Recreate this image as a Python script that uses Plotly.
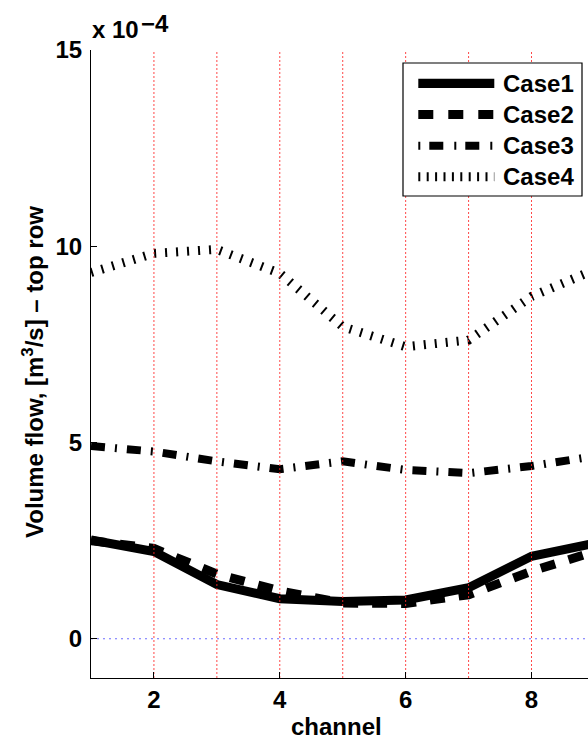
import plotly.graph_objects as go

# ---- data (volume flow in units of 1e-4 m^3/s) ----
channels = [1, 2, 3, 4, 5, 6, 7, 8, 9]
case1 = [2.52, 2.22, 1.38, 1.02, 0.95, 0.99, 1.30, 2.10, 2.43]
case2 = [2.50, 2.30, 1.65, 1.22, 0.91, 0.90, 1.12, 1.72, 2.22]
case3 = [4.91, 4.77, 4.52, 4.32, 4.52, 4.30, 4.22, 4.40, 4.65]
case4 = [9.33, 9.82, 9.92, 9.31, 7.95, 7.44, 7.61, 8.72, 9.40]
names = ["Case1", "Case2", "Case3", "Case4"]
grid_x = [2, 3, 4, 5, 6, 7, 8]
x_ticks = [2, 4, 6, 8]
y_ticks = [0, 5, 10, 15]
y_ticktext = ["0", "5", "10", "15"]

FONT = "Liberation Sans, Arial, sans-serif"
FS = 24

W, H = 588, 742
AX_L, AX_R, AX_T, AX_B = 91, 588, 50, 678   # plot area in page pixels
ML, MR, MT = AX_L, 0, AX_T
MB = H - AX_B
PW = AX_R - AX_L
PH = AX_B - AX_T
XMIN, YMIN, YMAX = 1, -1, 15
PX_PER_X = 62.93
XMAX = XMIN + PW / PX_PER_X

def px2paper_x(px):
    return (px - AX_L) / PW

def px2paper_y(py):
    return (AX_B - py) / PH

styles = [
    dict(width=9, dash="solid"),
    dict(width=9, dash="15px,14px"),
    dict(width=8, dash="14px,10px,2px,10px"),
    dict(width=9, dash="2px,9px"),
]
series = [case1, case2, case3, case4]

fig = go.Figure()
for nm, ys, st in zip(names, series, styles):
    fig.add_trace(go.Scatter(x=channels, y=ys, mode="lines", name=nm,
                             line=dict(color="black", width=st["width"], dash=st["dash"]),
                             showlegend=False, hoverinfo="skip"))

# red dotted vertical lines (drawn over data)
gx, gy = [], []
for g in grid_x:
    gx += [g, g, None]
    gy += [YMIN, YMAX, None]
fig.add_trace(go.Scatter(x=gx, y=gy, mode="lines", showlegend=False, hoverinfo="skip",
                         line=dict(color="rgba(255,40,40,0.85)", width=1, dash="2px,2px")))
# blue dotted zero line
fig.add_trace(go.Scatter(x=[XMIN, channels[-1] + 1], y=[0, 0], mode="lines", showlegend=False,
                         hoverinfo="skip",
                         line=dict(color="rgba(60,60,255,0.75)", width=1, dash="2px,4px")))

# ---- manual legend ----
shapes = []
annotations = []
lx0, lx1, ly0, ly1 = 403, 582, 63, 196
shapes.append(dict(type="rect", xref="paper", yref="paper", layer="above",
                   x0=px2paper_x(lx0), x1=px2paper_x(lx1), y0=px2paper_y(ly1), y1=px2paper_y(ly0),
                   line=dict(color="black", width=1.2), fillcolor="white"))
legend_rows = [83.3, 114.5, 145.7, 176.7]
legend_dash = ["solid", "15px,15px", "2px,9px,14px,11px", "2px,6.4px"]
legend_w = [9.3, 9, 8, 9]
for nm, ry, dsh, lw in zip(names, legend_rows, legend_dash, legend_w):
    shapes.append(dict(type="line", xref="paper", yref="paper", layer="above",
                       x0=px2paper_x(418.3), x1=px2paper_x(494.3),
                       y0=px2paper_y(ry), y1=px2paper_y(ry),
                       line=dict(color="black", width=lw, dash=dsh)))
    annotations.append(dict(xref="paper", yref="paper", x=px2paper_x(501), y=px2paper_y(ry),
                            xanchor="left", yanchor="middle", showarrow=False, text=nm,
                            font=dict(family=FONT, size=FS, color="black", weight="bold")))

# axis titles and exponent
annotations.append(dict(xref="paper", yref="paper", x=px2paper_x(336), y=px2paper_y(726),
                        xanchor="center", yanchor="middle", showarrow=False, text="channel",
                        font=dict(family=FONT, size=FS, color="black", weight="bold")))
annotations.append(dict(xref="paper", yref="paper", x=px2paper_x(33), y=px2paper_y(372),
                        xanchor="center", yanchor="middle", showarrow=False, textangle=-90,
                        text="Volume flow, [m<sup>3</sup>/s] \u2013 top row",
                        font=dict(family=FONT, size=FS, color="black", weight="bold")))
annotations.append(dict(xref="paper", yref="paper", x=px2paper_x(90), y=px2paper_y(29.7),
                        xanchor="left", yanchor="middle", showarrow=False,
                        text="x 10",
                        font=dict(family=FONT, size=FS, color="black", weight="bold")))
annotations.append(dict(xref="paper", yref="paper", x=px2paper_x(139), y=px2paper_y(23.5),
                        xanchor="left", yanchor="middle", showarrow=False,
                        text="\u22124",
                        font=dict(family=FONT, size=FS, color="black", weight="bold")))

fig.update_layout(
    width=W, height=H,
    margin=dict(l=ML, r=MR, t=MT, b=MB, pad=0),
    paper_bgcolor="white", plot_bgcolor="white",
    showlegend=False,
    shapes=shapes, annotations=annotations,
    font=dict(family=FONT, size=FS, color="black", weight="bold"),
    xaxis=dict(range=[XMIN, XMAX], tickvals=x_ticks, ticks="inside", ticklen=6,
               tickcolor="black", showline=True, linecolor="black", linewidth=1,
               showgrid=False, zeroline=False, mirror=False,
               tickfont=dict(family=FONT, size=FS, color="black", weight="bold")),
    yaxis=dict(range=[YMIN, YMAX], tickvals=y_ticks, ticktext=y_ticktext, ticks="inside",
               ticklen=6, tickcolor="black", showline=True, linecolor="black", linewidth=1,
               showgrid=False, zeroline=False, mirror=False, ticklabelstandoff=3,
               tickfont=dict(family=FONT, size=FS, color="black", weight="bold")),
)

fig.write_html("out.html", config={"displayModeBar": False},
               post_script="document.body.style.margin='0px';document.body.style.overflow='hidden';")
